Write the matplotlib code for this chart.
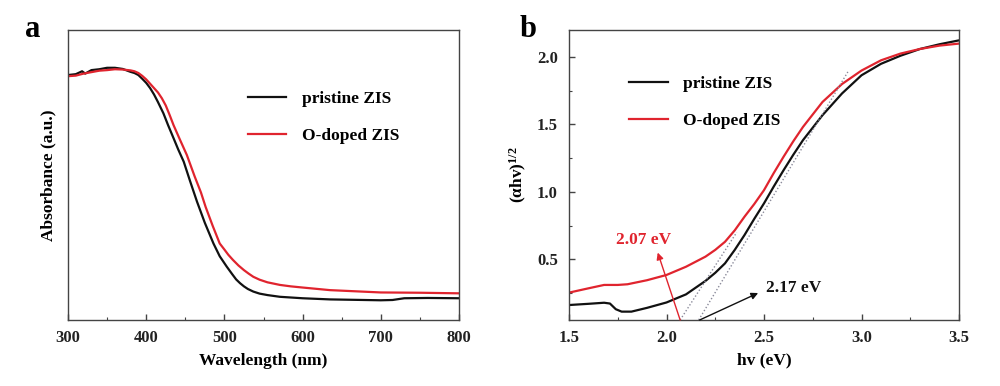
import numpy as np
import matplotlib
matplotlib.use("Agg")
import matplotlib.pyplot as plt
from matplotlib.ticker import MultipleLocator, NullLocator

RED = "#e0242e"
BLACK = "#111111"
FRAME = "#444444"

plt.rcParams.update({
    "font.family": "Liberation Serif",
    "font.weight": "bold",
    "axes.labelweight": "bold",
    "font.size": 12,
    "axes.edgecolor": FRAME,
    "axes.linewidth": 1.0,
    "mathtext.fontset": "custom",
    "mathtext.rm": "Liberation Serif:bold",
    "mathtext.it": "Liberation Serif:bold",
    "mathtext.bf": "Liberation Serif:bold",
})

# ---- panel a: absorbance (arbitrary units, 0..1 of axis height) ----
wl_black = [300, 310, 318, 322, 330, 340, 350, 360, 370, 380, 385, 390, 395, 400,
            405, 410, 415, 422, 428, 435, 441, 448, 456, 465, 475, 486, 494, 503,
            510, 515, 520, 525, 530, 537, 545, 555, 571, 600, 635, 700, 715, 730,
            760, 800]
abs_black = [0.845, 0.848, 0.858, 0.850, 0.862, 0.865, 0.870, 0.870, 0.866, 0.856,
             0.852, 0.845, 0.832, 0.818, 0.800, 0.778, 0.752, 0.713, 0.672, 0.627,
             0.588, 0.546, 0.480, 0.408, 0.335, 0.264, 0.220, 0.184, 0.158, 0.140,
             0.127, 0.116, 0.107, 0.098, 0.091, 0.086, 0.080, 0.075, 0.071, 0.068,
             0.069, 0.075, 0.076, 0.075]
wl_red = [300, 310, 320, 330, 340, 350, 360, 370, 380, 385, 390, 395, 400, 405,
          410, 415, 420, 425, 430, 435, 443, 452, 462, 470, 476, 485, 494, 500,
          505, 511, 518, 525, 531, 537, 545, 555, 571, 585, 600, 635, 700, 750, 800]
abs_red = [0.841, 0.843, 0.850, 0.855, 0.860, 0.862, 0.865, 0.864, 0.861, 0.858,
           0.852, 0.842, 0.830, 0.815, 0.800, 0.785, 0.765, 0.740, 0.707, 0.672,
           0.623, 0.569, 0.495, 0.440, 0.390, 0.325, 0.264, 0.243, 0.225, 0.207,
           0.188, 0.172, 0.160, 0.149, 0.139, 0.130, 0.121, 0.116, 0.112, 0.103,
           0.095, 0.094, 0.092]

# ---- panel b: Tauc plot ----
ev_black = [1.5, 1.6, 1.68, 1.71, 1.74, 1.77, 1.82, 1.9, 2.0, 2.1, 2.2, 2.25, 2.3,
            2.35, 2.4, 2.45, 2.5, 2.55, 2.6, 2.65, 2.7, 2.8, 2.9, 3.0, 3.1, 3.2,
            3.3, 3.4, 3.5]
tauc_black = [0.161, 0.170, 0.178, 0.172, 0.130, 0.112, 0.112, 0.140, 0.180, 0.240,
              0.340, 0.400, 0.470, 0.570, 0.680, 0.800, 0.915, 1.040, 1.160, 1.275,
              1.384, 1.569, 1.730, 1.865, 1.950, 2.010, 2.060, 2.095, 2.124]
ev_red = [1.5, 1.6, 1.68, 1.75, 1.8, 1.9, 2.0, 2.1, 2.2, 2.25, 2.3, 2.35, 2.4,
          2.45, 2.5, 2.55, 2.6, 2.65, 2.7, 2.8, 2.9, 3.0, 3.1, 3.2, 3.3, 3.4, 3.5]
tauc_red = [0.253, 0.285, 0.310, 0.310, 0.315, 0.345, 0.384, 0.445, 0.520, 0.570,
            0.630, 0.715, 0.816, 0.910, 1.013, 1.140, 1.260, 1.375, 1.482, 1.667,
            1.800, 1.900, 1.976, 2.026, 2.060, 2.085, 2.100]

# tangent (extrapolation) lines
tan_red_x = [2.07, 2.36]
tan_red_y = [0.05, 0.70]
tan_black_x = [2.165, 2.93]
tan_black_y = [0.05, 1.89]

gap_red = 2.07
gap_black = 2.17


def style_axis(ax):
    ax.tick_params(direction="in", which="major", length=4, width=1.0,
                   colors=FRAME, labelcolor="#222222", labelsize=12)
    ax.tick_params(direction="in", which="minor", length=2.5, width=0.8,
                   colors=FRAME)
    ax.tick_params(axis="x", which="major", pad=7)
    ax.tick_params(axis="y", which="major", pad=8)
    for lab in ax.get_xticklabels() + ax.get_yticklabels():
        lab.set_fontweight("bold")


legend_font = {"family": "Liberation Serif", "weight": "bold", "size": 12.5}

fig = plt.figure(figsize=(10, 3.86), dpi=100)
ax1 = fig.add_axes([0.068, 0.171, 0.391, 0.751])
ax2 = fig.add_axes([0.569, 0.171, 0.390, 0.751])

# panel a
ax1.plot(wl_black, abs_black, color=BLACK, lw=1.6, label="pristine ZIS")
ax1.plot(wl_red, abs_red, color=RED, lw=1.6, label="O-doped ZIS")
ax1.set_xlim(300, 800)
ax1.set_ylim(0, 1)
ax1.xaxis.set_major_locator(MultipleLocator(100))
ax1.xaxis.set_minor_locator(MultipleLocator(50))
ax1.yaxis.set_major_locator(NullLocator())
ax1.set_xlabel("Wavelength (nm)", fontsize=12.5, labelpad=5)
ax1.set_ylabel("Absorbance (a.u.)", fontsize=12.5, labelpad=8)
style_axis(ax1)
ax1.legend(loc="upper left", bbox_to_anchor=(0.42, 0.845), frameon=False,
           handlelength=2.2, handletextpad=0.9, labelspacing=1.2,
           prop=legend_font)
fig.text(0.025, 0.905, "a", fontsize=22, fontweight="bold")

# panel b
ax2.plot(ev_black, tauc_black, color=BLACK, lw=1.6, label="pristine ZIS")
ax2.plot(ev_red, tauc_red, color=RED, lw=1.6, label="O-doped ZIS")
ax2.plot(tan_red_x, tan_red_y, ls=(0, (1, 1.5)), color="#8a8a9a", lw=1.0)
ax2.plot(tan_black_x, tan_black_y, ls=(0, (1, 1.5)), color="#8a8a9a", lw=1.0)
ax2.set_xlim(1.5, 3.5)
ax2.set_ylim(0.05, 2.2)
ax2.xaxis.set_major_locator(MultipleLocator(0.5))
ax2.xaxis.set_minor_locator(MultipleLocator(0.25))
ax2.yaxis.set_major_locator(MultipleLocator(0.5))
ax2.yaxis.set_minor_locator(MultipleLocator(0.25))
ax2.xaxis.set_major_formatter(plt.FormatStrFormatter("%.1f"))
ax2.yaxis.set_major_formatter(plt.FormatStrFormatter("%.1f"))
ax2.set_xlabel("hv (eV)", fontsize=12.5, labelpad=5)
ax2.set_ylabel("(αhv)$^{1/2}$", fontsize=12.5, labelpad=6)
style_axis(ax2)
ax2.legend(loc="upper left", bbox_to_anchor=(0.115, 0.895), frameon=False,
           handlelength=2.2, handletextpad=0.9, labelspacing=1.2,
           prop=legend_font)

ax2.annotate("", xy=(1.955, 0.55), xytext=(gap_red, 0.05),
             arrowprops=dict(arrowstyle="-|>", color=RED, lw=1.0,
                             mutation_scale=10, shrinkA=0, shrinkB=0))
ax2.text(1.88, 0.64, f"{gap_red:.2f} eV", color=RED, fontsize=12.5,
         fontweight="bold", ha="center", va="center")
ax2.annotate("", xy=(2.47, 0.25), xytext=(gap_black, 0.05),
             arrowprops=dict(arrowstyle="-|>", color=BLACK, lw=1.0,
                             mutation_scale=10, shrinkA=0, shrinkB=0))
ax2.text(2.51, 0.29, f"{gap_black:.2f} eV", color=BLACK, fontsize=12.5,
         fontweight="bold", ha="left", va="center")
fig.text(0.52, 0.905, "b", fontsize=22, fontweight="bold")

fig.savefig("out.png", dpi=100, facecolor="white")
